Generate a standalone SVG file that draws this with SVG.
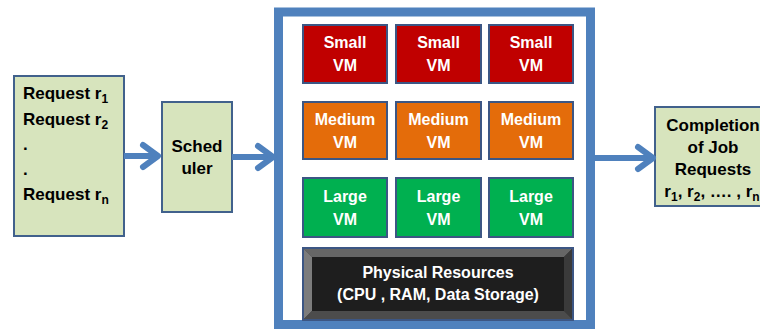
<svg xmlns="http://www.w3.org/2000/svg" width="760" height="329" viewBox="0 0 760 329">
<defs>
<style>
text{font-family:"Liberation Sans",Arial,sans-serif;font-weight:bold;}
.g{fill:#d7e4bd;stroke:#41618c;stroke-width:2;}
.vm{stroke:#3c5684;stroke-width:2;}
.s{fill:#c00000;}
.m{fill:#e46c0a;}
.l{fill:#00b050;}
.w{fill:#ffffff;font-size:16px;text-anchor:middle;}
.k{fill:#000000;font-size:17px;}
.c{text-anchor:middle;}
.conn{stroke:#4f81bd;stroke-width:6;fill:none;marker-end:url(#chev);}
</style>
<marker id="chev" markerUnits="userSpaceOnUse" viewBox="0 0 24 30" markerWidth="24" markerHeight="30" refX="20" refY="15" orient="auto">
<path d="M5,4 L20,15 L5,26" fill="none" stroke="#4f81bd" stroke-width="6" stroke-linecap="round" stroke-linejoin="round"/>
</marker>
</defs>
<rect width="760" height="329" fill="#ffffff"/>

<g id="requests">
<rect class="g" x="14" y="76" width="110" height="160"/>
<text class="k" x="23" y="99">Request r<tspan font-size="12" dy="4">1</tspan></text>
<text class="k" x="23" y="124.5">Request r<tspan font-size="12" dy="4">2</tspan></text>
<text class="k" x="23" y="149.5">.</text>
<text class="k" x="23" y="174.5">.</text>
<text class="k" x="23" y="200">Request r<tspan font-size="12" dy="4">n</tspan></text>
</g>

<g id="scheduler">
<rect class="g" x="162" y="102" width="70" height="110"/>
<text class="k c" x="197" y="152">Sched</text>
<text class="k c" x="197" y="174">uler</text>
</g>

<g id="cloud">
<rect x="278.5" y="12" width="312" height="312.5" fill="#ffffff" stroke="#4f81bd" stroke-width="9"/>
</g>

<g id="small-vm-1"><rect class="vm s" x="303" y="25" width="84" height="58"/><text class="w" x="345" y="48">Small</text><text class="w" x="345" y="71">VM</text></g>
<g id="small-vm-2"><rect class="vm s" x="396" y="25" width="85" height="58"/><text class="w" x="438.5" y="48">Small</text><text class="w" x="438.5" y="71">VM</text></g>
<g id="small-vm-3"><rect class="vm s" x="489" y="25" width="84" height="58"/><text class="w" x="531" y="48">Small</text><text class="w" x="531" y="71">VM</text></g>

<g id="medium-vm-1"><rect class="vm m" x="303" y="102" width="84" height="57"/><text class="w" x="345" y="124.5">Medium</text><text class="w" x="345" y="147.5">VM</text></g>
<g id="medium-vm-2"><rect class="vm m" x="396" y="102" width="85" height="57"/><text class="w" x="438.5" y="124.5">Medium</text><text class="w" x="438.5" y="147.5">VM</text></g>
<g id="medium-vm-3"><rect class="vm m" x="489" y="102" width="84" height="57"/><text class="w" x="531" y="124.5">Medium</text><text class="w" x="531" y="147.5">VM</text></g>

<g id="large-vm-1"><rect class="vm l" x="303" y="178" width="84" height="59"/><text class="w" x="345" y="201.5">Large</text><text class="w" x="345" y="224.5">VM</text></g>
<g id="large-vm-2"><rect class="vm l" x="396" y="178" width="85" height="59"/><text class="w" x="438.5" y="201.5">Large</text><text class="w" x="438.5" y="224.5">VM</text></g>
<g id="large-vm-3"><rect class="vm l" x="489" y="178" width="84" height="59"/><text class="w" x="531" y="201.5">Large</text><text class="w" x="531" y="224.5">VM</text></g>

<g id="physical-resources">
<rect x="303" y="248" width="270" height="72" fill="#2a2a2a"/>
<polygon points="303,248 573,248 564,257 312,257" fill="#666666"/>
<polygon points="303,248 312,257 312,311 303,320" fill="#7c7c7c"/>
<polygon points="573,248 573,320 564,311 564,257" fill="#3a3a3a"/>
<polygon points="303,320 312,311 564,311 573,320" fill="#4c4c4c"/>
<rect x="312" y="257" width="252" height="54" fill="#1e1e1e"/>
<rect x="303" y="248" width="270" height="72" fill="none" stroke="#3c5684" stroke-width="2"/>
<text class="w" x="438" y="278">Physical Resources</text>
<text class="w" x="438" y="300">(CPU , RAM, Data Storage)</text>
</g>

<g id="completion">
<rect class="g" x="655" y="107" width="120" height="99"/>
<text class="k c" x="713" y="131">Completion</text>
<text class="k c" x="713" y="153">of Job</text>
<text class="k c" x="713" y="175">Requests</text>
<text class="k c" x="712" y="197">r<tspan font-size="12" dy="4">1</tspan><tspan dy="-4">, r</tspan><tspan font-size="12" dy="4">2</tspan><tspan dy="-4">, …. , r</tspan><tspan font-size="12" dy="4">n</tspan></text>
</g>

<g id="connectors">
<path class="conn" d="M124,156 L158,156"/>
<path class="conn" d="M232,157 L273,157"/>
<path class="conn" d="M595,158 L653,158"/>
</g>
</svg>
